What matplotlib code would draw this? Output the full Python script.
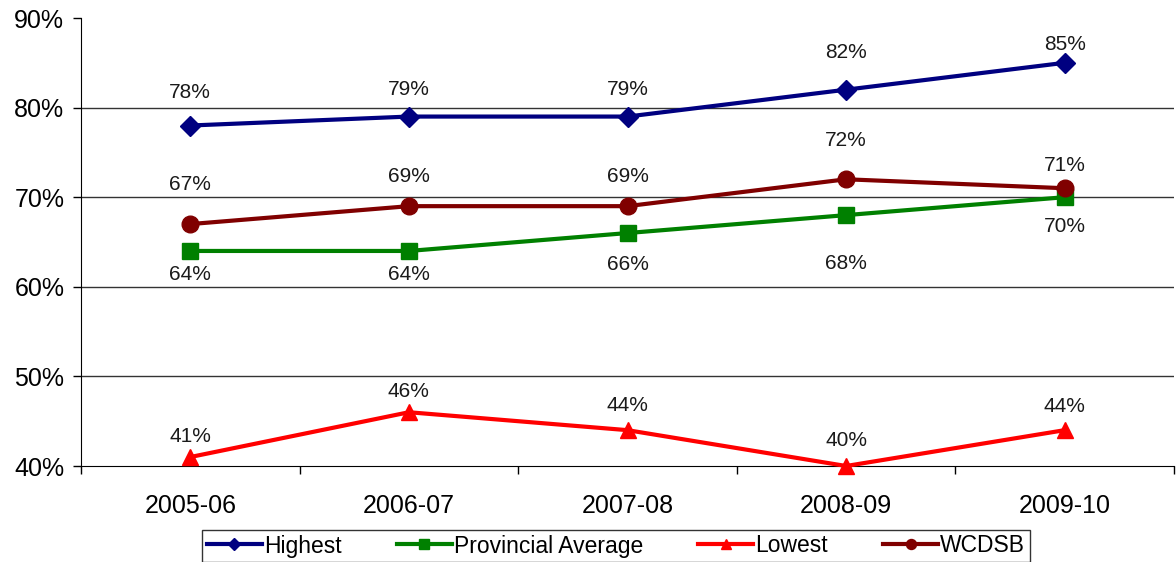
import matplotlib
matplotlib.use("Agg")
import matplotlib.pyplot as plt
from matplotlib.ticker import FixedLocator, PercentFormatter

plt.rcParams['font.family'] = ['Liberation Sans', 'DejaVu Sans']

years = ["2005-06", "2006-07", "2007-08", "2008-09", "2009-10"]
highest = [78, 79, 79, 82, 85]
provincial = [64, 64, 66, 68, 70]
lowest = [41, 46, 44, 40, 44]
wcdsb = [67, 69, 69, 72, 71]

W, H = 1176, 562
fig = plt.figure(figsize=(W / 100, H / 100), dpi=100)
ax = fig.add_axes([81 / W, 1 - 466 / H, (1174 - 81) / W, (466 - 18) / H])

x = list(range(len(years)))
series = [
    ("Highest", highest, "#000080", "D", 10, [33, 27, 27, 37, 18]),
    ("Provincial Average", provincial, "#008000", "s", 11, [-24, -24, -31, -48, -29]),
    ("Lowest", lowest, "#FF0000", "^", 12, [21, 21, 25, 25, 24]),
    ("WCDSB", wcdsb, "#800000", "o", 12, [40, 30, 30, 39, 23]),
]

for name, vals, col, mk, ms, offs in series:
    ax.plot(x, vals, color=col, lw=3, marker=mk, markersize=ms, label=name,
            clip_on=False, zorder=3)
    for xi, v, o in zip(x, vals, offs):
        ax.annotate(f"{v}%", (xi, v), xytext=(0, o * 0.72), textcoords="offset points",
                    ha="center", va="center", fontsize=15, color="#1a1a1a", zorder=4)

ax.set_xlim(-0.5, len(years) - 0.5)
ax.set_ylim(40, 90)
ax.set_yticks([40, 50, 60, 70, 80, 90])
ax.yaxis.set_major_formatter(PercentFormatter(decimals=0))
ax.tick_params(axis='y', labelsize=18, direction='out', length=6, width=1, pad=6)
ax.set_xticks(x)
ax.set_xticklabels(years)
ax.tick_params(axis='x', which='major', length=0, labelsize=18, pad=20)
ax.xaxis.set_minor_locator(FixedLocator([i - 0.5 for i in range(len(years) + 1)]))
ax.tick_params(axis='x', which='minor', direction='out', length=6, width=1)

for yv in [50, 60, 70, 80]:
    ax.axhline(yv, color="#333333", lw=1, zorder=1)

ax.spines['top'].set_visible(False)
ax.spines['right'].set_visible(False)
ax.spines['left'].set_color("black")
ax.spines['bottom'].set_color("black")

leg = fig.legend(loc="center", bbox_to_anchor=(616 / W, 1 - 546 / H), ncol=4,
                 fontsize=16.5, frameon=True, fancybox=False, edgecolor="black",
                 handlelength=2.4, handletextpad=0.1, columnspacing=2.4,
                 borderpad=0.2, markerscale=0.6)
leg.get_frame().set_linewidth(1)

fig.savefig("out.png", dpi=100)
